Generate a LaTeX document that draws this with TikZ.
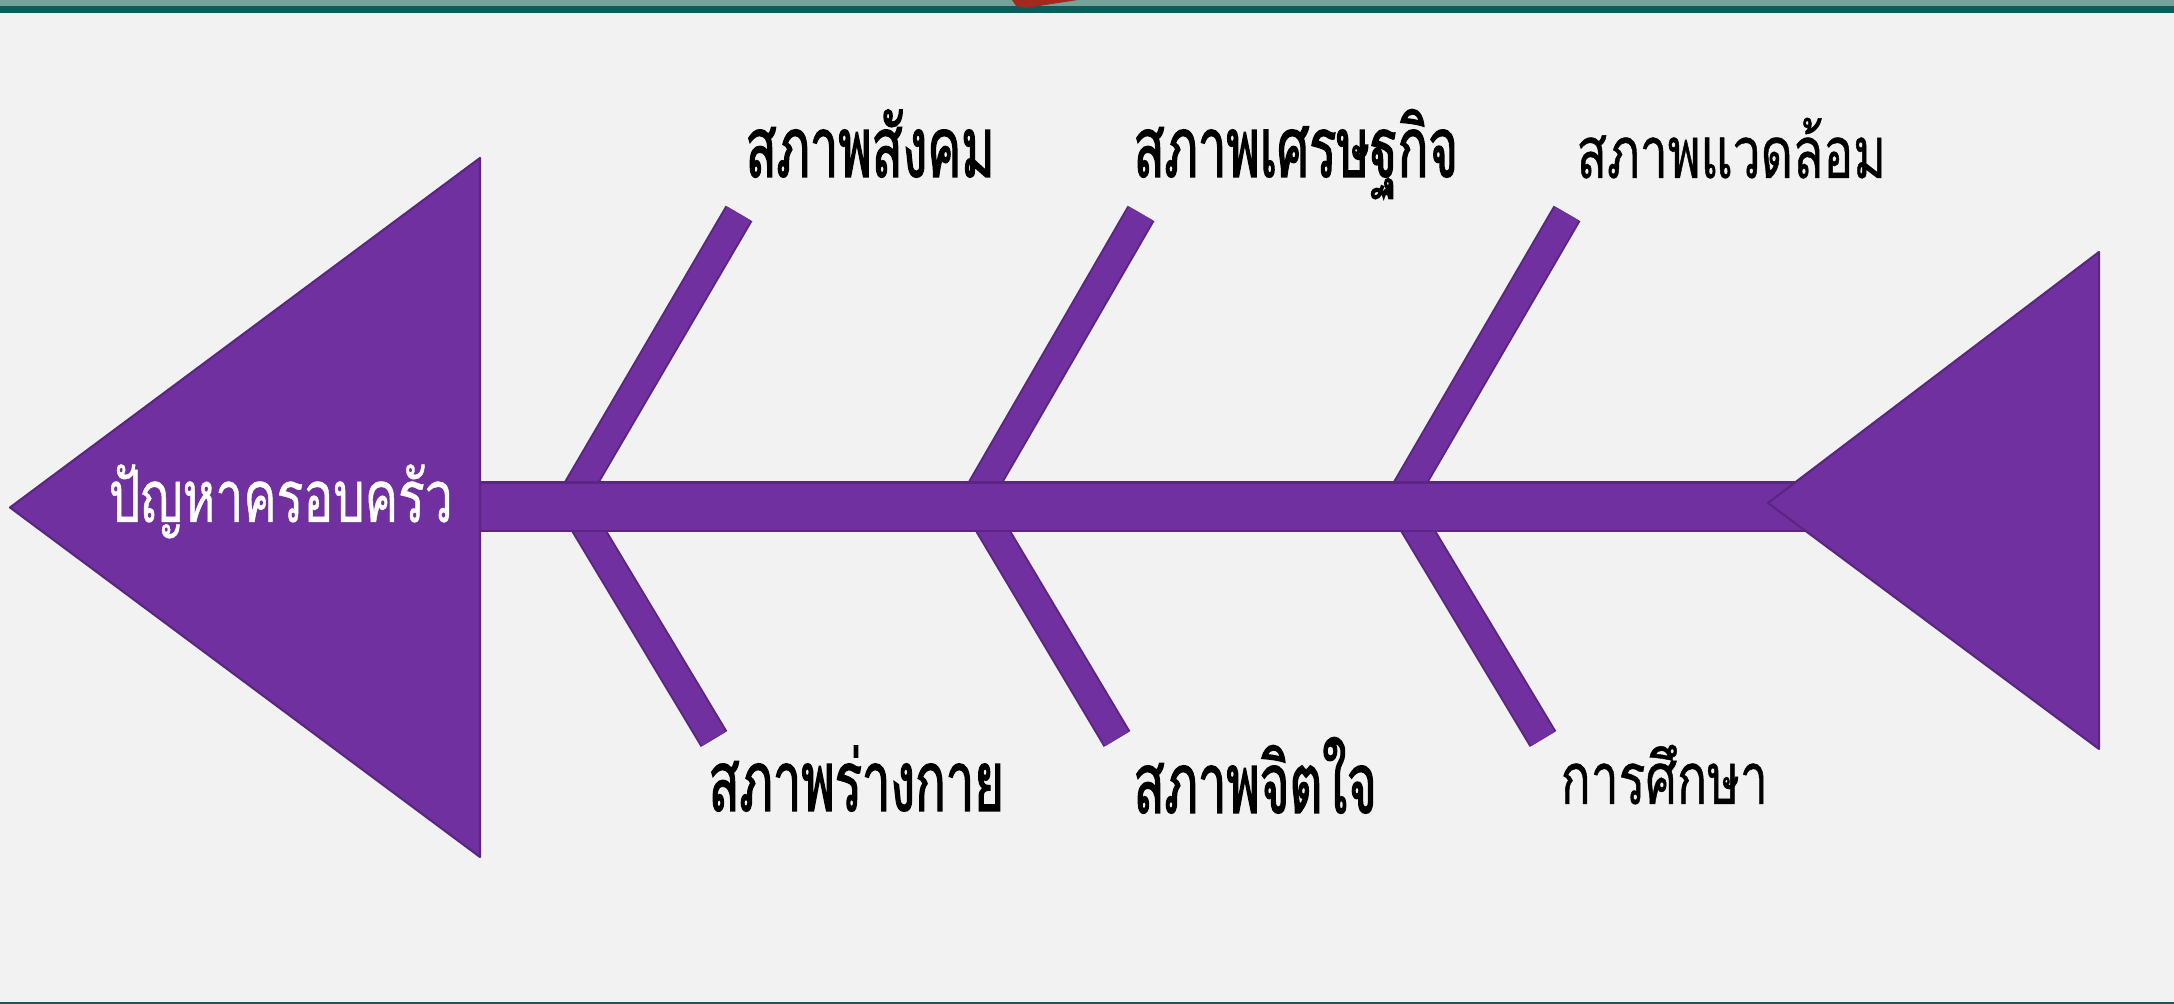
\documentclass[tikz,border=0pt]{standalone}
\usepackage{fontspec}
\newfontfamily\thaiwide[Script=Thai, FakeStretch=0.69, FakeBold=0.6]{Loma}
\newfontfamily\thainarrow[Script=Thai, FakeStretch=0.6, FakeBold=1.5]{Loma}
\usetikzlibrary{positioning}
\definecolor{cpurple}{HTML}{7030A0}
\definecolor{cpurpledark}{HTML}{5A2682}
\definecolor{cback}{HTML}{F2F2F2}
\definecolor{cteal}{HTML}{0F5A5A}
\definecolor{ctealpale}{HTML}{76A29C}
\definecolor{cred}{HTML}{A3281E}
\tikzset{
  fin/.style={fill=cpurple, draw=cpurpledark, line width=0.6pt, line join=round},
  bone/.style={line width=0.31cm, draw=cpurpledark},
  bonefill/.style={line width=0.27cm, draw=cpurple},
  causewide/.style={font=\thaiwide\fontsize{20.5}{24}\selectfont, text=black, anchor=base west, inner sep=0pt},
  causenarrow/.style={causewide, font=\thainarrow\fontsize{24}{28}\selectfont},
  headtext/.style={causewide, text=white},
}

\begin{document}
\begin{tikzpicture}[x=0.01cm, y=-0.01cm]
  % page
  \fill[cback] (0,0) rectangle (2174,1004);
  \useasboundingbox (0,0) rectangle (2174,1004);
  \fill[ctealpale] (0,0) rectangle (2174,6);
  \fill[cteal] (0,6) rectangle (2174,13);
  \fill[cteal] (0,1002) rectangle (2174,1004);
  \fill[cred] (1012,0) -- (1078,0) -- (1026,8) -- (1016,6) -- cycle;
  % bones
  \foreach \vx/\ux/\lx [count=\i] in {575/739/714, 979/1141/1117, 1404/1567/1543}{
    \coordinate (vu\i) at (\vx-8,507.5);
    \coordinate (vl\i) at (\vx,507.5);
    \coordinate (u\i) at (\ux,213.5);
    \coordinate (l\i) at (\lx,739);
    \draw[bone] (u\i) -- (vu\i) (vl\i) -- (l\i);
    \draw[bonefill] (u\i) -- (vu\i) (vl\i) -- (l\i);
  }
  % spine
  \draw[fin] (480,482.5) rectangle (1810,531);
  % head and tail
  \draw[fin] (10,507.5) coordinate (headtip) -- (480,158) -- (480,857) -- cycle;
  \draw[fin] (1768,503) coordinate (tailtip) -- (2099,252) -- (2099,749) -- cycle;
  \node[headtext] (head) at (108,522) {ปัญหาครอบครัว};
  % causes
  \node[causenarrow] (social) at (745,177) {สภาพสังคม};
  \node[causenarrow] (economy) at (1133,177) {สภาพเศรษฐกิจ};
  \node[causewide] (environment) at (1576,178) {สภาพแวดล้อม};
  \node[causenarrow] (body) at (708,811) {สภาพร่างกาย};
  \node[causenarrow] (mind) at (1133,813) {สภาพจิตใจ};
  \node[causewide] (education) at (1560,804) {การศึกษา};
\end{tikzpicture}
\end{document}
